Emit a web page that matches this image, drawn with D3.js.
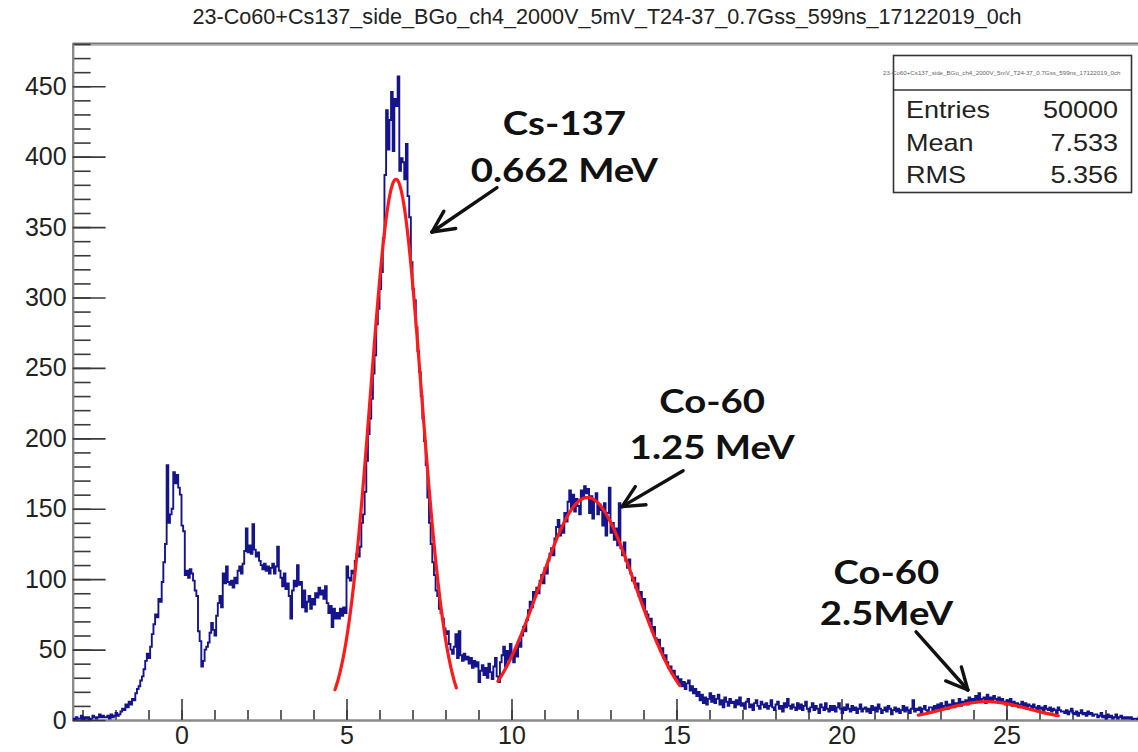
<!DOCTYPE html>
<html>
<head>
<meta charset="utf-8">
<script src="https://cdn.jsdelivr.net/npm/d3@7"></script>
<style>
  html, body { margin: 0; padding: 0; background: #ffffff; }
  svg { display: block; }
</style>
</head>
<body>
<svg id="chart" width="1138" height="752"></svg>
<script>
// ---- data ---------------------------------------------------------------
const histTitle = "23-Co60+Cs137_side_BGo_ch4_2000V_5mV_T24-37_0.7Gss_599ns_17122019_0ch";

// histogram binning: first bin low edge and bin width (x axis units)
const binLow = -3.3;
const binWidth = 0.05;

// bin contents, one row per unit of x starting at -3.3
const counts = [
  1,0,2,1,1,3,0,2,1,2,0,1,3,2,1,2,4,2,3,2,
  2,3,1,4,2,3,5,3,4,6,8,7,11,9,13,11,15,14,19,22,
  24,28,31,36,42,47,44,52,61,68,75,73,86,84,98,112,125,181,140,146,
  150,176,168,174,165,160,138,134,103,106,101,107,104,99,92,88,63,56,38,42,
  50,52,55,62,69,64,60,74,83,88,80,104,97,109,98,96,99,94,101,97,
  106,109,104,111,120,136,119,124,118,139,121,116,119,113,110,107,111,106,109,104,
  108,111,104,109,123,106,101,95,104,93,97,88,72,92,99,95,110,96,98,80,
  92,77,84,88,79,86,82,90,87,94,89,92,86,95,83,76,81,66,79,72,
  76,72,79,74,80,76,109,101,99,106,104,113,118,116,123,140,146,162,184,203,
  214,228,246,259,281,292,306,318,342,387,433,405,426,446,404,441,436,457,390,399,
  396,384,409,372,357,325,306,298,279,262,247,230,214,198,181,158,140,125,112,103,
  92,88,79,76,72,65,61,63,54,50,47,52,61,44,63,46,42,47,43,45,
  40,44,37,42,38,41,27,35,39,32,37,30,40,34,29,38,44,31,27,41,
  46,52,38,49,43,54,47,41,50,45,55,52,60,66,63,71,78,84,80,91,
  88,94,90,99,103,97,108,104,113,118,122,117,129,137,142,131,138,133,147,141,
  155,163,150,160,148,157,152,146,163,158,166,161,164,147,159,143,156,161,146,153,
  149,138,154,131,147,165,133,140,128,136,124,154,122,117,126,113,108,114,104,99,
  101,94,97,88,91,82,86,77,75,70,72,63,66,58,55,57,49,51,44,46,
  41,37,38,33,35,30,31,26,29,24,27,22,26,28,21,24,19,22,17,20,
  14,18,12,16,11,15,19,13,17,12,15,18,11,14,9,16,13,10,15,12,
  13,9,14,11,16,10,12,8,13,15,9,11,7,12,14,10,8,13,11,9,
  12,8,10,14,9,7,11,13,8,10,6,12,9,15,10,8,11,9,7,12,
  8,11,7,10,13,8,6,9,12,7,10,8,5,11,9,7,12,8,6,10,
  7,10,6,9,12,8,5,9,7,11,8,6,10,7,9,5,8,11,6,8,
  9,6,8,5,10,7,9,6,11,8,5,7,9,6,10,8,4,7,9,6,
  8,5,7,10,6,9,7,5,8,14,6,8,7,9,5,8,10,7,6,9,
  9,7,10,8,11,7,12,9,10,13,8,11,10,14,9,12,11,15,10,13,
  12,14,11,16,13,15,12,17,14,19,13,15,16,12,18,14,16,13,17,15,
  14,16,12,15,13,11,14,12,15,10,13,11,12,9,11,13,10,12,8,11,
  10,8,11,9,7,10,8,9,6,10,8,7,9,6,8,7,5,9,7,6,
  6,5,7,4,6,8,5,4,6,3,5,7,4,5,3,6,4,5,3,4,
  4,2,3,5,2,3,1,4,2,3,1,2,4,1,2,3,1,2,1,2,
  1,2,0,1,1,0,2,1,0,1
];

// gaussian fits: constant, mean, sigma and fitted range
const fitConstant = [384, 158, 13];
const fitMean     = [6.5, 12.3, 24.4];
const fitSigma    = [0.77, 1.45, 1.27];
const fitLow      = [4.65, 9.59, 22.33];
const fitHigh     = [8.33, 15.1, 26.57];

// statistics box
const statNames  = ["Entries", "Mean", "RMS"];
const statValues = ["50000", "7.533", "5.356"];

// axis ticks
const xTickValues = [0, 5, 10, 15, 20, 25];
const yTickValues = [0, 50, 100, 150, 200, 250, 300, 350, 400, 450];

// peak annotations (label lines, label anchor and arrow in data units)
const peakLabels = [["Cs-137", "0.662 MeV"], ["Co-60", "1.25 MeV"], ["Co-60", "2.5MeV"]];
const labelX     = [11.6, 16.08, 21.36];
const labelY     = [[415.5, 382], [218.3, 185.6], [96.7, 67.6]];
const arrowFrom  = [[9.56, 378], [15.2, 177], [22.26, 62.6]];
const arrowTo    = [[7.59, 346.5], [13.35, 151.5], [23.83, 21.3]];

// ---- drawing ------------------------------------------------------------
const svg = d3.select("#chart");
const W = 1138, H = 752;
const frame = { left: 72.6, top: 44, bottom: 720 };
const xMin = binLow, xMax = binLow + binWidth * counts.length;
const yMax = 480;

const x = d3.scaleLinear().domain([xMin, xMax]).range([frame.left, frame.left + 33 * (xMax - xMin)]);
const y = d3.scaleLinear().domain([0, yMax]).range([frame.bottom, frame.top]);

svg.append("rect").attr("width", W).attr("height", H).attr("fill", "#ffffff");

svg.append("defs").append("clipPath").attr("id", "plotClip")
  .append("rect")
  .attr("x", frame.left).attr("y", frame.top)
  .attr("width", x(xMax) - frame.left).attr("height", frame.bottom - frame.top);

// title
svg.append("text")
  .attr("x", 607).attr("y", 24)
  .attr("text-anchor", "middle")
  .attr("font-family", "'Liberation Sans', Arial, sans-serif")
  .attr("font-size", 21.6)
  .attr("fill", "#222")
  .text(histTitle);

// top frame border
svg.append("line")
  .attr("x1", frame.left).attr("x2", W + 10)
  .attr("y1", frame.top).attr("y2", frame.top)
  .attr("stroke", "#a8a8a8").attr("stroke-width", 3.5);
svg.append("line")
  .attr("x1", frame.left).attr("x2", W + 10)
  .attr("y1", frame.top - 0.5).attr("y2", frame.top - 0.5)
  .attr("stroke", "#7a7a7a").attr("stroke-width", 1);

// axes
const tickColor = "#3a3a3a";
function styleAxis(g) {
  g.select(".domain").attr("stroke", "#8a8a8a").attr("stroke-width", 2.2);
  g.selectAll(".tick line").attr("stroke", tickColor).attr("stroke-width", 1.6);
  g.selectAll(".tick text")
    .attr("fill", "#222")
    .attr("font-family", "'Liberation Sans', Arial, sans-serif")
    .attr("font-size", 25);
}

const xMinor = d3.range(Math.ceil(xMin), Math.floor(xMax) + 1);
svg.append("g").attr("transform", `translate(0,${frame.bottom})`)
  .call(d3.axisBottom(x).tickValues(xMinor).tickSizeInner(-10).tickSizeOuter(0).tickFormat(""))
  .call(styleAxis);
svg.append("g").attr("transform", `translate(0,${frame.bottom})`)
  .call(d3.axisBottom(x).tickValues(xTickValues).tickSizeInner(-21).tickSizeOuter(0).tickPadding(6))
  .call(styleAxis);

const yMinor = d3.range(0, yMax + 1, 10);
svg.append("g").attr("transform", `translate(${frame.left},0)`)
  .call(d3.axisLeft(y).tickValues(yMinor).tickSizeInner(-18).tickSizeOuter(0).tickFormat(""))
  .call(styleAxis);
svg.append("g").attr("transform", `translate(${frame.left},0)`)
  .call(d3.axisLeft(y).tickValues(yTickValues).tickSizeInner(-33).tickSizeOuter(0).tickPadding(6))
  .call(styleAxis);

// histogram outline as steps
const bins = counts.map((c, i) => ({ x0: binLow + i * binWidth, x1: binLow + (i + 1) * binWidth, c }));
let d = `M${x(bins[0].x0)},${y(bins[0].c)}`;
bins.forEach((b, i) => {
  if (i > 0) d += `V${y(b.c)}`;
  d += `H${x(b.x1)}`;
});
svg.append("path")
  .attr("clip-path", "url(#plotClip)")
  .attr("d", d)
  .attr("fill", "none")
  .attr("stroke", "#14148c")
  .attr("stroke-width", 1.9)
  .attr("stroke-linejoin", "miter");

// fitted gaussians
const gaus = (k, v) => fitConstant[k] * Math.exp(-0.5 * Math.pow((v - fitMean[k]) / fitSigma[k], 2));
const fitLine = d3.line().x(p => x(p[0])).y(p => y(p[1])).curve(d3.curveLinear);
fitConstant.forEach((_, k) => {
  const n = 120;
  const pts = d3.range(n + 1).map(j => {
    const v = fitLow[k] + (fitHigh[k] - fitLow[k]) * j / n;
    return [v, gaus(k, v)];
  });
  svg.append("path")
    .attr("d", fitLine(pts))
    .attr("fill", "none")
    .attr("stroke", "#ff1a1a")
    .attr("stroke-width", 3.2)
    .attr("stroke-linecap", "round")
    .attr("stroke-linejoin", "round");
});

// statistics box
const box = { x: 893.5, y: 55.5, w: 238, h: 137, sep: 90 };
svg.append("rect")
  .attr("x", box.x).attr("y", box.y).attr("width", box.w).attr("height", box.h)
  .attr("fill", "#ffffff").attr("stroke", "#333").attr("stroke-width", 1.6);
svg.append("line")
  .attr("x1", box.x).attr("x2", box.x + box.w)
  .attr("y1", box.sep).attr("y2", box.sep)
  .attr("stroke", "#333").attr("stroke-width", 1.6);
svg.append("text")
  .attr("x", 883).attr("y", 75)
  .attr("font-family", "'Liberation Sans', Arial, sans-serif")
  .attr("font-size", 6.2)
  .attr("fill", "#666")
  .text(histTitle);
statNames.forEach((name, i) => {
  const base = 118.3 + i * 32.2;
  svg.append("text")
    .attr("transform", `translate(906,${base}) scale(1.15,1)`)
    .attr("font-family", "'Liberation Sans', Arial, sans-serif")
    .attr("font-size", 23.5)
    .attr("fill", "#222")
    .text(name);
  svg.append("text")
    .attr("transform", `translate(1118,${base}) scale(1.15,1)`)
    .attr("text-anchor", "end")
    .attr("font-family", "'Liberation Sans', Arial, sans-serif")
    .attr("font-size", 23.5)
    .attr("fill", "#222")
    .text(statValues[i]);
});

// peak labels and arrows
function arrow(x1, y1, x2, y2) {
  const g = svg.append("g").attr("stroke", "#111").attr("stroke-width", 3.4)
    .attr("stroke-linecap", "round").attr("fill", "none");
  g.append("line").attr("x1", x1).attr("y1", y1).attr("x2", x2).attr("y2", y2);
  const ang = Math.atan2(y1 - y2, x1 - x2);
  const len = 24, spread = 26 * Math.PI / 180;
  [-spread, spread].forEach(s => {
    g.append("line")
      .attr("x1", x2).attr("y1", y2)
      .attr("x2", x2 + len * Math.cos(ang + s))
      .attr("y2", y2 + len * Math.sin(ang + s));
  });
}
peakLabels.forEach((lines, k) => {
  lines.forEach((t, j) => {
    svg.append("text")
      .attr("transform", `translate(${x(labelX[k])},${y(labelY[k][j])}) scale(1.2,1)`)
      .attr("text-anchor", "middle")
      .attr("font-family", "Lato, 'Open Sans', sans-serif")
      .attr("font-weight", 700)
      .attr("font-size", 32)
      .attr("fill", "#111")
      .text(t);
  });
  arrow(x(arrowFrom[k][0]), y(arrowFrom[k][1]), x(arrowTo[k][0]), y(arrowTo[k][1]));
});
</script>
</body>
</html>
